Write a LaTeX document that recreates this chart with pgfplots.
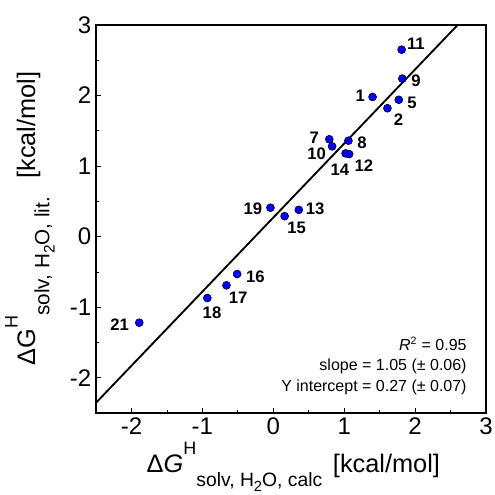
\documentclass[border=0pt]{standalone}
\usepackage{pgfplots}
\pgfplotsset{compat=1.18}
\usepackage{pgfplotstable}
\usepackage{fontspec}
\setmainfont{Liberation Sans}

\pgfplotstableread{
x y lab lx ly
1.40 1.98 1 1.227 1.995
1.61 1.82 2 1.766 1.663
1.77 1.94 5 1.958 1.902
0.79 1.38 7 0.578 1.408
1.06 1.36 8 1.252 1.332
1.82 2.24 9 2.014 2.212
0.83 1.28 10 0.610 1.176
1.81 2.65 11 2.011 2.731
1.07 1.17 12 1.277 1.004
0.36 0.38 13 0.589 0.389
1.02 1.18 14 0.939 0.953
0.16 0.29 15 0.329 0.120
-0.51 -0.53 16 -0.252 -0.568
-0.66 -0.69 17 -0.495 -0.869
-0.93 -0.87 18 -0.864 -1.083
-0.04 0.41 19 -0.288 0.401
-1.89 -1.22 21 -2.168 -1.252
}\pts

\begin{document}
\begin{tikzpicture}
\begin{axis}[
  at={(0,0)}, anchor=south west,
  width=292.5pt, height=291pt, scale only axis,
  xmin=-2.5, xmax=3, ymin=-2.5, ymax=3,
  xtick={-2,-1,0,1,2,3}, xticklabels={-2,-1,0,1,2,3},
  ytick={-2,-1,0,1,2,3}, yticklabels={-2,-1,0,1,2,3},
  minor x tick num=1, minor y tick num=1,
  tick align=inside, tick pos=left,
  major tick length=3.75pt, minor tick length=2pt,
  tick style={black, line width=0.6pt},
  axis line style={line width=0.8pt},
  ticklabel style={font=\fontsize{18}{18}\selectfont},
  clip=true,
]
\addplot[black, line width=1.4pt] coordinates {(-2.5,-2.355) (2.6,3.0)};
\addplot[only marks, mark=*, mark size=3pt,
  mark options={fill=blue, draw=black, line width=0.4pt}]
  table[x=x, y=y] {\pts};
\addplot[draw=none, mark=none,
  point meta=explicit symbolic,
  nodes near coords,
  nodes near coords style={anchor=center, inner sep=0pt,
    font=\fontsize{12.5}{12.5}\selectfont\bfseries, text=black},
] table[x=lx, y=ly, meta=lab] {\pts};
\node[anchor=base east, inner sep=0pt, font=\fontsize{12}{12}\selectfont] at (axis cs:2.73,-1.608) {\textit{R}\textsuperscript{2} = 0.95};
\node[anchor=base east, inner sep=0pt, font=\fontsize{12}{12}\selectfont] at (axis cs:2.73,-1.891) {slope = 1.05 (± 0.06)};
\node[anchor=base east, inner sep=0pt, font=\fontsize{12}{12}\selectfont] at (axis cs:2.73,-2.198) {Y intercept = 0.27 (± 0.07)};
\end{axis}
\node[anchor=base, inner sep=0pt] at (148pt,-44.5pt) {\fontsize{19}{19}\selectfont Δ\textit{G}\raisebox{0.69em}{\fontsize{13.5}{13.5}\selectfont H}\raisebox{-0.57em}{\fontsize{14.5}{14.5}\selectfont solv, H\raisebox{-0.25em}{\fontsize{11}{11}\selectfont 2}O, calc}\hspace{8pt}[kcal/mol]};
\node[anchor=base, inner sep=0pt, rotate=90] at (-45.75pt,146pt) {\fontsize{19}{19}\selectfont ΔG\raisebox{0.69em}{\fontsize{13.5}{13.5}\selectfont H}\raisebox{-0.57em}{\fontsize{15.5}{15.5}\selectfont solv, H\raisebox{-0.25em}{\fontsize{11.5}{11.5}\selectfont 2}O, lit.}\hspace{14pt}[kcal/mol]};
\pgfresetboundingbox
\useasboundingbox (-72pt,-61.5pt) rectangle (298.5pt,309.75pt);
\end{tikzpicture}
\end{document}
